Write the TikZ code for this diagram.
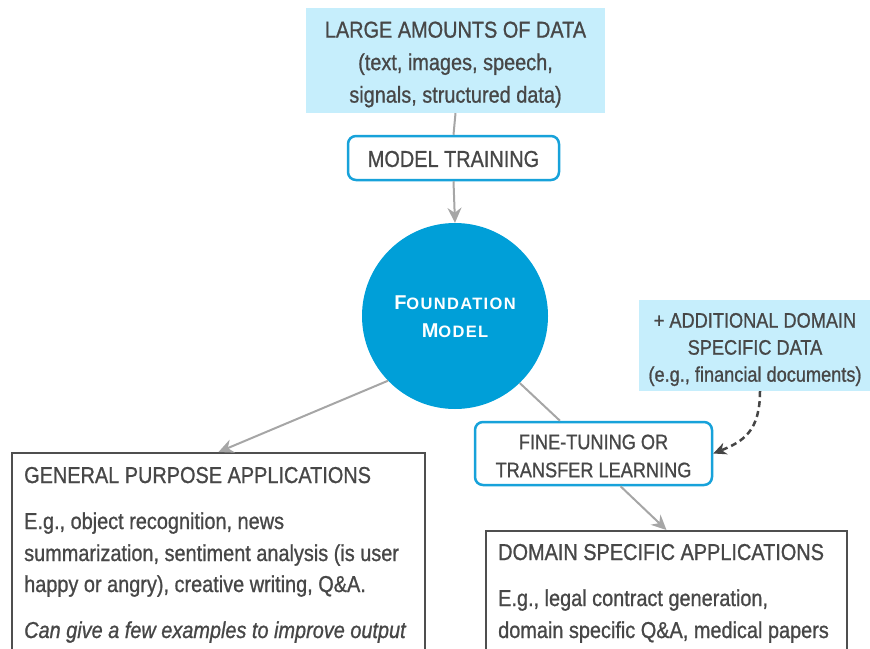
\documentclass[tikz,border=0pt]{standalone}
\usepackage{fontspec}
\setmainfont{Liberation Sans}[FakeStretch=0.865,RawFeature={embolden=0.9}]
\newfontfamily\fmfont{Liberation Sans}[LetterSpace=8]
\usetikzlibrary{arrows.meta,calc}
\definecolor{txt}{HTML}{474747}
\definecolor{lightfill}{HTML}{C6EEFC}
\definecolor{fmblue}{HTML}{009FD8}
\definecolor{bordblue}{HTML}{17A2DA}
\definecolor{arrgray}{HTML}{A6A6A6}
\definecolor{boxgray}{HTML}{4F4F4F}
\definecolor{dashgray}{HTML}{454545}
\tikzset{
  databox/.style={fill=lightfill, draw=none, inner sep=0pt},
  boxtext/.style={text=txt, align=center, inner sep=0pt},
  stepbox/.style={draw=bordblue, line width=2.5pt, rounded corners=8pt, fill=white, inner sep=0pt},
  appbox/.style={draw=boxgray, line width=2pt, fill=white, inner sep=0pt},
  apptext/.style={text=txt, anchor=base west, inner sep=0pt},
  conn/.style={draw=arrgray, line width=2pt},
  arr/.style={conn, -{Stealth[length=15pt,width=14pt,inset=5pt]}},
  dasharr/.style={draw=dashgray, line width=2.5pt, dash pattern=on 6pt off 4pt, -{Stealth[length=13pt,width=12pt,inset=4pt]}},
}
\begin{document}
\begin{tikzpicture}[x=1pt,y=-1pt]
\useasboundingbox (0,0) rectangle (870,648);
\clip (0,0) rectangle (870,648);

% top data box
\node[databox, minimum width=299pt, minimum height=105pt] (data) at (455.5,60.5) {};
\node[boxtext, font=\fontsize{23}{32.5}\selectfont] (datatext) at (455.5,64.5)
  {LARGE AMOUNTS OF DATA\\(text, images, speech,\\signals, structured data)};

% model training
\node[stepbox, minimum width=211pt, minimum height=44pt] (train) at (453.5,158) {};
\node[boxtext, font=\fontsize{23}{28}\selectfont] (traintext) at (453.5,159) {MODEL TRAINING};

% foundation model
\node[circle, fill=fmblue, draw=none, minimum size=186pt, inner sep=0pt] (fm) at (455,316) {};
\node[text=white, align=center, inner sep=0pt, font=\fmfont\bfseries\fontsize{16.5}{28}\selectfont] (fmtext) at (455,317)
  {{\fontsize{20}{28}\selectfont F}OUNDATION\\{\fontsize{20}{28}\selectfont M}ODEL};

% additional data
\node[databox, minimum width=232pt, minimum height=91pt] (extra) at (755,345.5) {};
\node[boxtext, font=\fontsize{21}{27}\selectfont] (extratext) at (755,349.5)
  {+ ADDITIONAL DOMAIN\\SPECIFIC DATA\\(e.g., financial documents)};

% fine tuning
\node[stepbox, minimum width=237pt, minimum height=63pt] (ft) at (593.5,453.5) {};
\node[boxtext, font=\fontsize{21}{28}\selectfont] (fttext) at (593.5,456)
  {FINE-TUNING OR\\TRANSFER LEARNING};

% general purpose box
\node[appbox, anchor=north west, minimum width=413pt, minimum height=230pt] (gen) at (11,452) {};
\node[apptext, font=\fontsize{23}{28}\selectfont] (gentitle) at (24,483) {GENERAL PURPOSE APPLICATIONS};
\node[apptext, font=\fontsize{23}{28}\selectfont] (genb1) at (24,529) {E.g., object recognition, news};
\node[apptext, font=\fontsize{23}{28}\selectfont] (genb2) at (24,561) {summarization, sentiment analysis (is user};
\node[apptext, font=\fontsize{23}{28}\selectfont] (genb3) at (24,592) {happy or angry), creative writing, Q\&A.};
\node[apptext, font=\fontsize{23}{28}\selectfont\itshape] (genb4) at (24,638) {Can give a few examples to improve output};

% domain specific box
\node[appbox, anchor=north west, minimum width=361pt, minimum height=150pt] (dom) at (485,530) {};
\node[apptext, font=\fontsize{23}{28}\selectfont] (domtitle) at (498,560) {DOMAIN SPECIFIC APPLICATIONS};
\node[apptext, font=\fontsize{23}{28}\selectfont] (domb1) at (498,606) {E.g., legal contract generation,};
\node[apptext, font=\fontsize{23}{28}\selectfont] (domb2) at (498,638) {domain specific Q\&A, medical papers};

% connectors
\draw[conn] (data.south) -- (train.north);
\draw[arr] (train.south) -- (fm.north);
\draw[arr] (fm.224) -- (gen.north);
\coordinate (ftin) at ($(ft.north west)!0.36!(ft.north east)$);
\draw[conn] (fm.314) -- (ftin);
\coordinate (ftout) at ($(ft.south)+(27,0)$);
\draw[arr] (ftout) -- (dom.north);
\coordinate (exout) at ($(extra.south)+(5,0)$);
\draw[dasharr] (exout) .. controls ($(exout)+(0,40)$) and ($(ft.east)+(30,-12)$) .. (ft.east);
\end{tikzpicture}
\end{document}
